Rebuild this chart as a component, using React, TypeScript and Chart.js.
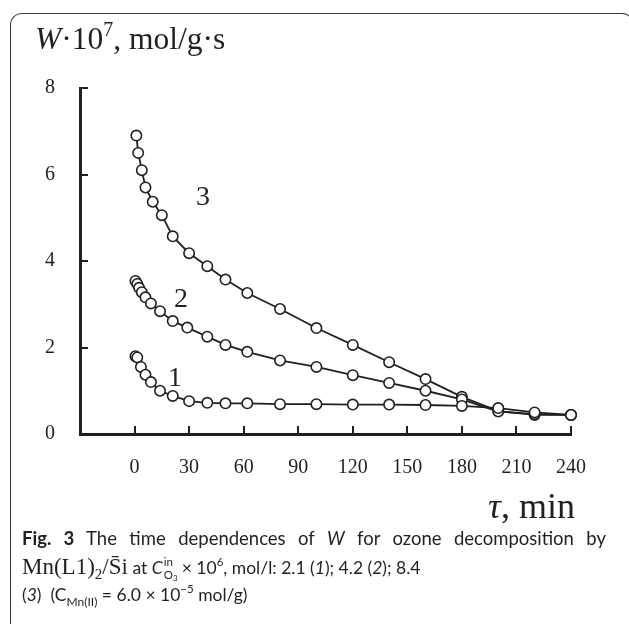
import React, { useEffect, useRef } from 'react';
import { Chart, registerables } from 'chart.js';

Chart.register(...registerables);

// ---- data ----
const t1 = [0.5, 1.5, 3.5, 6, 9, 14, 21, 30, 40, 50, 62, 80, 100, 120, 140, 160, 180, 200, 220, 240];
const w1 = [1.8, 1.77, 1.55, 1.37, 1.2, 1.0, 0.88, 0.76, 0.72, 0.71, 0.71, 0.69, 0.69, 0.68, 0.68, 0.67, 0.65, 0.6, 0.5, 0.44];

const t2 = [0.5, 1.5, 2.5, 4, 6, 9, 14, 21, 29, 40, 50, 62, 80, 100, 120, 140, 160, 180, 200, 220, 240];
const w2 = [3.54, 3.47, 3.38, 3.28, 3.16, 3.02, 2.84, 2.61, 2.46, 2.25, 2.06, 1.9, 1.7, 1.55, 1.36, 1.18, 1.0, 0.8, 0.52, 0.46, 0.44];

const t3 = [1, 2, 4, 6, 10, 15, 21, 30, 40, 50, 62, 80, 100, 120, 140, 160, 180, 200, 220, 240];
const w3 = [6.9, 6.5, 6.1, 5.7, 5.37, 5.06, 4.57, 4.18, 3.88, 3.57, 3.26, 2.89, 2.45, 2.06, 1.66, 1.27, 0.86, 0.53, 0.44, 0.44];

const xTickValues = [0, 30, 60, 90, 120, 150, 180, 210, 240];
const yTickValues = [0, 2, 4, 6, 8];

const INK = '#231f20';

const inwardTicks = {
  id: 'inwardTicks',
  beforeDatasetsDraw(chart: any) {
    const { ctx, chartArea, scales } = chart;
    const x = scales.x;
    const y = scales.y;
    ctx.save();
    ctx.strokeStyle = INK;
    ctx.lineWidth = 2;
    ctx.beginPath();
    for (const v of yTickValues) {
      if (v === 0) continue;
      const py = Math.round(y.getPixelForValue(v));
      ctx.moveTo(chartArea.left, py);
      ctx.lineTo(chartArea.left + 8, py);
    }
    for (const v of xTickValues) {
      const px = Math.round(x.getPixelForValue(v));
      ctx.moveTo(px, chartArea.bottom);
      ctx.lineTo(px, chartArea.bottom - 8);
    }
    ctx.stroke();
    ctx.restore();
  },
};

function makeSeries(ts: number[], ws: number[]) {
  return ts.map((t, i) => ({ x: t, y: ws[i] }));
}

const SERIF = '"Liberation Serif", "DejaVu Serif", serif';
const SANS = 'Lato, "Open Sans", sans-serif';

const supS = (size: number, top: number) => ({ fontSize: size, verticalAlign: 'baseline', position: 'relative' as const, top, lineHeight: 0 });

export default function App() {
  const ref = useRef<HTMLCanvasElement | null>(null);

  useEffect(() => {
    if (!ref.current) return;
    const ds = (ts: number[], ws: number[]) => ({
      data: makeSeries(ts, ws),
      showLine: true,
      borderColor: INK,
      borderWidth: 1.8,
      pointRadius: 5.2,
      pointBackgroundColor: '#ffffff',
      pointBorderColor: INK,
      pointBorderWidth: 1.6,
      tension: 0,
      clip: false as any,
    });
    const chart = new Chart(ref.current, {
      type: 'scatter',
      data: {
        datasets: [ds(t1, w1), ds(t2, w2), ds(t3, w3)],
      },
      options: {
        animation: false,
        responsive: false,
        events: [],
        layout: { padding: { left: 0, top: 88, right: 58, bottom: 130 } },
        plugins: { legend: { display: false }, tooltip: { enabled: false } },
        scales: {
          x: {
            type: 'linear',
            min: -30,
            max: 240,
            afterFit: (s: any) => { s.height = 60; },
            grid: { display: false, drawTicks: false },
            border: { display: true, width: 3, color: INK },
            ticks: {
              stepSize: 30,
              autoSkip: false,
              maxRotation: 0,
              padding: 22,
              color: INK,
              font: { family: SERIF, size: 20 },
              callback: (v: any) => (Number(v) < 0 ? '' : String(v)),
            },
          },
          y: {
            type: 'linear',
            min: 0,
            max: 8,
            afterFit: (s: any) => { s.width = 80; },
            grid: { display: false, drawTicks: false },
            border: { display: true, width: 3, color: INK },
            ticks: {
              stepSize: 2,
              padding: 25,
              color: INK,
              font: { family: SERIF, size: 20 },
            },
          },
        },
      },
      plugins: [inwardTicks],
    });
    return () => chart.destroy();
  }, []);

  const abs = (l: number, t: number, extra: any = {}) => ({
    position: 'absolute' as const,
    left: l,
    top: t,
    whiteSpace: 'nowrap' as const,
    ...extra,
  });

  const capLine = { fontFamily: SANS, fontSize: 17.5, lineHeight: '24px', whiteSpace: 'nowrap' as const };

  return (
    <div style={{ position: 'absolute', left: 0, top: 0, width: 629, height: 624, overflow: 'hidden', background: '#fff', color: INK }}>
      <div style={{ position: 'absolute', left: 10, top: 13, width: 624, height: 700, borderLeft: '1.6px solid #3a3a3a', borderTop: '1.6px solid #3a3a3a', borderRight: '1.6px solid #3a3a3a', borderTopLeftRadius: 12, borderTopRightRadius: 12, boxSizing: 'border-box' }} />
      <canvas ref={ref} width={629} height={624} style={{ position: 'absolute', left: 0, top: 0 }} />
      <div style={abs(35, 23, { fontFamily: SERIF, fontSize: 31.5, lineHeight: '31px' })}>
        <i>W</i>·10<span style={supS(20, -13)}>7</span>, mol/g·s
      </div>
      <div style={abs(488, 488, { fontFamily: SERIF, fontSize: 36, lineHeight: '36px' })}>
        <i>τ</i>, min
      </div>
      <div style={abs(196, 182, { fontFamily: SERIF, fontSize: 28, lineHeight: '28px' })}>3</div>
      <div style={abs(174, 284, { fontFamily: SERIF, fontSize: 28, lineHeight: '28px' })}>2</div>
      <div style={abs(168, 363, { fontFamily: SERIF, fontSize: 28, lineHeight: '28px' })}>1</div>

      <div style={abs(22, 526, { ...capLine, fontSize: 18.5, width: 584, whiteSpace: 'normal', textAlign: 'justify', textAlignLast: 'justify' })}>
        <b>Fig. 3</b> The time dependences of <i>W</i> for ozone decomposition by
      </div>
      <div style={abs(22, 555, capLine)}>
        <span style={{ fontFamily: SERIF, fontSize: 23 }}>Mn(L1)<span style={supS(15, 5)}>2</span>/S̄i</span> at{' '}
        <span style={{ display: 'inline-block', position: 'relative', width: 30 }}>
          <i>C</i>
          <span style={{ position: 'absolute', left: 12, top: 0, fontSize: 11.5, lineHeight: '12px' }}>in</span>
          <span style={{ position: 'absolute', left: 12, top: 13, fontSize: 11.5, lineHeight: '12px' }}>O<span style={supS(8, 2)}>3</span></span>
        </span>
        × 10<span style={supS(11.5, -8)}>6</span>, mol/l: 2.1 (<i>1</i>); 4.2 (<i>2</i>); 8.4
      </div>
      <div style={abs(22, 583, capLine)}>
        (<i>3</i>)&nbsp; (C<span style={supS(12, 5)}>Mn(II)</span> = 6.0 × 10<span style={supS(11.5, -8)}>−5</span> mol/g)
      </div>
    </div>
  );
}
